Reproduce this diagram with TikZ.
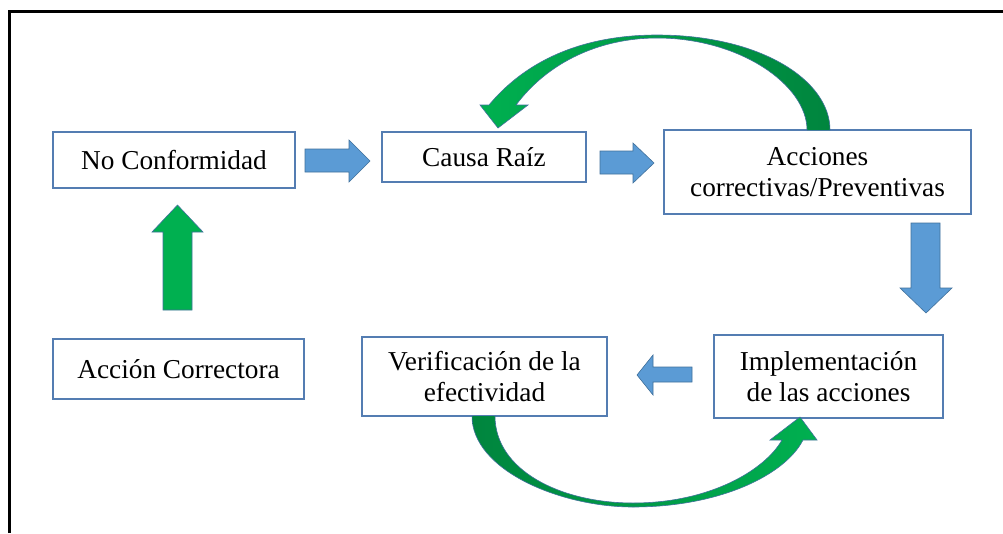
\documentclass[tikz,border=0pt]{standalone}
\usepackage{fontspec}
\setmainfont{Liberation Serif}
\definecolor{boxblue}{RGB}{84,125,178}
\definecolor{arrfill}{RGB}{91,155,213}
\definecolor{arrline}{RGB}{65,113,156}
\definecolor{glight}{RGB}{0,176,80}
\definecolor{gdark}{RGB}{0,133,62}
\tikzset{
  stepbox/.style={draw=boxblue, line width=1.4pt, fill=white, inner sep=0pt, align=center,
    font=\fontsize{27.3}{30.5}\selectfont},
  bluearrow/.style={fill=arrfill, draw=arrline, line width=0.6pt, line join=miter},
  greenarrow/.style={fill=glight, draw=arrline, line width=0.6pt, line join=miter},
  curvedge/.style={draw=arrline, line width=0.6pt}
}
\begin{document}
\begin{tikzpicture}[x=1pt, y=-1pt]
\useasboundingbox (0,0) rectangle (1003,533);
\fill[white] (0,0) rectangle (1003,533);
% outer frame
\draw[line width=3.5pt] (9.5,533) -- (9.5,11.5) -- (1003,11.5);

% boxes
\node[stepbox, minimum width=242pt, minimum height=56pt] (nc) at (174,160) {No Conformidad};
\node[stepbox, minimum width=204pt, minimum height=50pt] (cr) at (484,157) {Causa Raíz};
\node[stepbox, minimum width=307pt, minimum height=84pt] (ac) at (817.5,172) {Acciones\\correctivas/Preventivas};
\node[stepbox, minimum width=229pt, minimum height=83pt] (im) at (828.5,376.5) {Implementación\\de las acciones};
\node[stepbox, minimum width=245pt, minimum height=79pt] (ve) at (484.5,376.5) {Verificación de la\\efectividad};
\node[stepbox, minimum width=251pt, minimum height=60pt] (co) at (178.5,369) {Acción Correctora};

% blue block arrows
\draw[bluearrow] (305,149) -- (349,149) -- (349,140) -- (370,161) -- (349,182) -- (349,172) -- (305,172) -- cycle;
\draw[bluearrow] (600,151) -- (633,151) -- (633,143) -- (654,163) -- (633,183) -- (633,174) -- (600,174) -- cycle;
\draw[bluearrow] (911,223) -- (940,223) -- (940,288) -- (952,288) -- (926,313) -- (900,288) -- (911,288) -- cycle;
\draw[bluearrow] (692,367) -- (653,367) -- (653,355) -- (637,375) -- (653,395) -- (653,382) -- (692,382) -- cycle;

% green up arrow
\draw[greenarrow] (163,310) -- (163,232) -- (152,232) -- (177.5,205) -- (203,232) -- (192,232) -- (192,310) -- cycle;

% top curved arrow (from Acciones back to Causa Raiz)
\shade[left color=glight, right color=gdark]
  (830,130) .. controls (830,80) and (760,35) .. (657,35)
  .. controls (600,35) and (535,50) .. (489,105)
  -- (480,105) -- (498,128) -- (528,105) -- (516,105)
  .. controls (548,62) and (600,38) .. (657,38)
  .. controls (740,38) and (807,85) .. (807,130) -- cycle;
\draw[curvedge]
  (830,130) .. controls (830,80) and (760,35) .. (657,35)
  .. controls (600,35) and (535,50) .. (489,105)
  -- (480,105) -- (498,128) -- (528,105) -- (516,105)
  .. controls (548,62) and (600,38) .. (657,38)
  .. controls (740,38) and (807,85) .. (807,130);

% bottom curved arrow (from Verificacion to Implementacion)
\shade[left color=gdark, right color=glight]
  (472,416) .. controls (472,470) and (560,507) .. (633,507)
  .. controls (720,507) and (785,475) .. (803,440)
  -- (817,440) -- (800,417) -- (770,440) -- (782,440)
  .. controls (765,470) and (710,503) .. (633,503)
  .. controls (560,503) and (495,470) .. (495,416) -- cycle;
\draw[curvedge]
  (472,416) .. controls (472,470) and (560,507) .. (633,507)
  .. controls (720,507) and (785,475) .. (803,440)
  -- (817,440) -- (800,417) -- (770,440) -- (782,440)
  .. controls (765,470) and (710,503) .. (633,503)
  .. controls (560,503) and (495,470) .. (495,416);
\end{tikzpicture}
\end{document}
